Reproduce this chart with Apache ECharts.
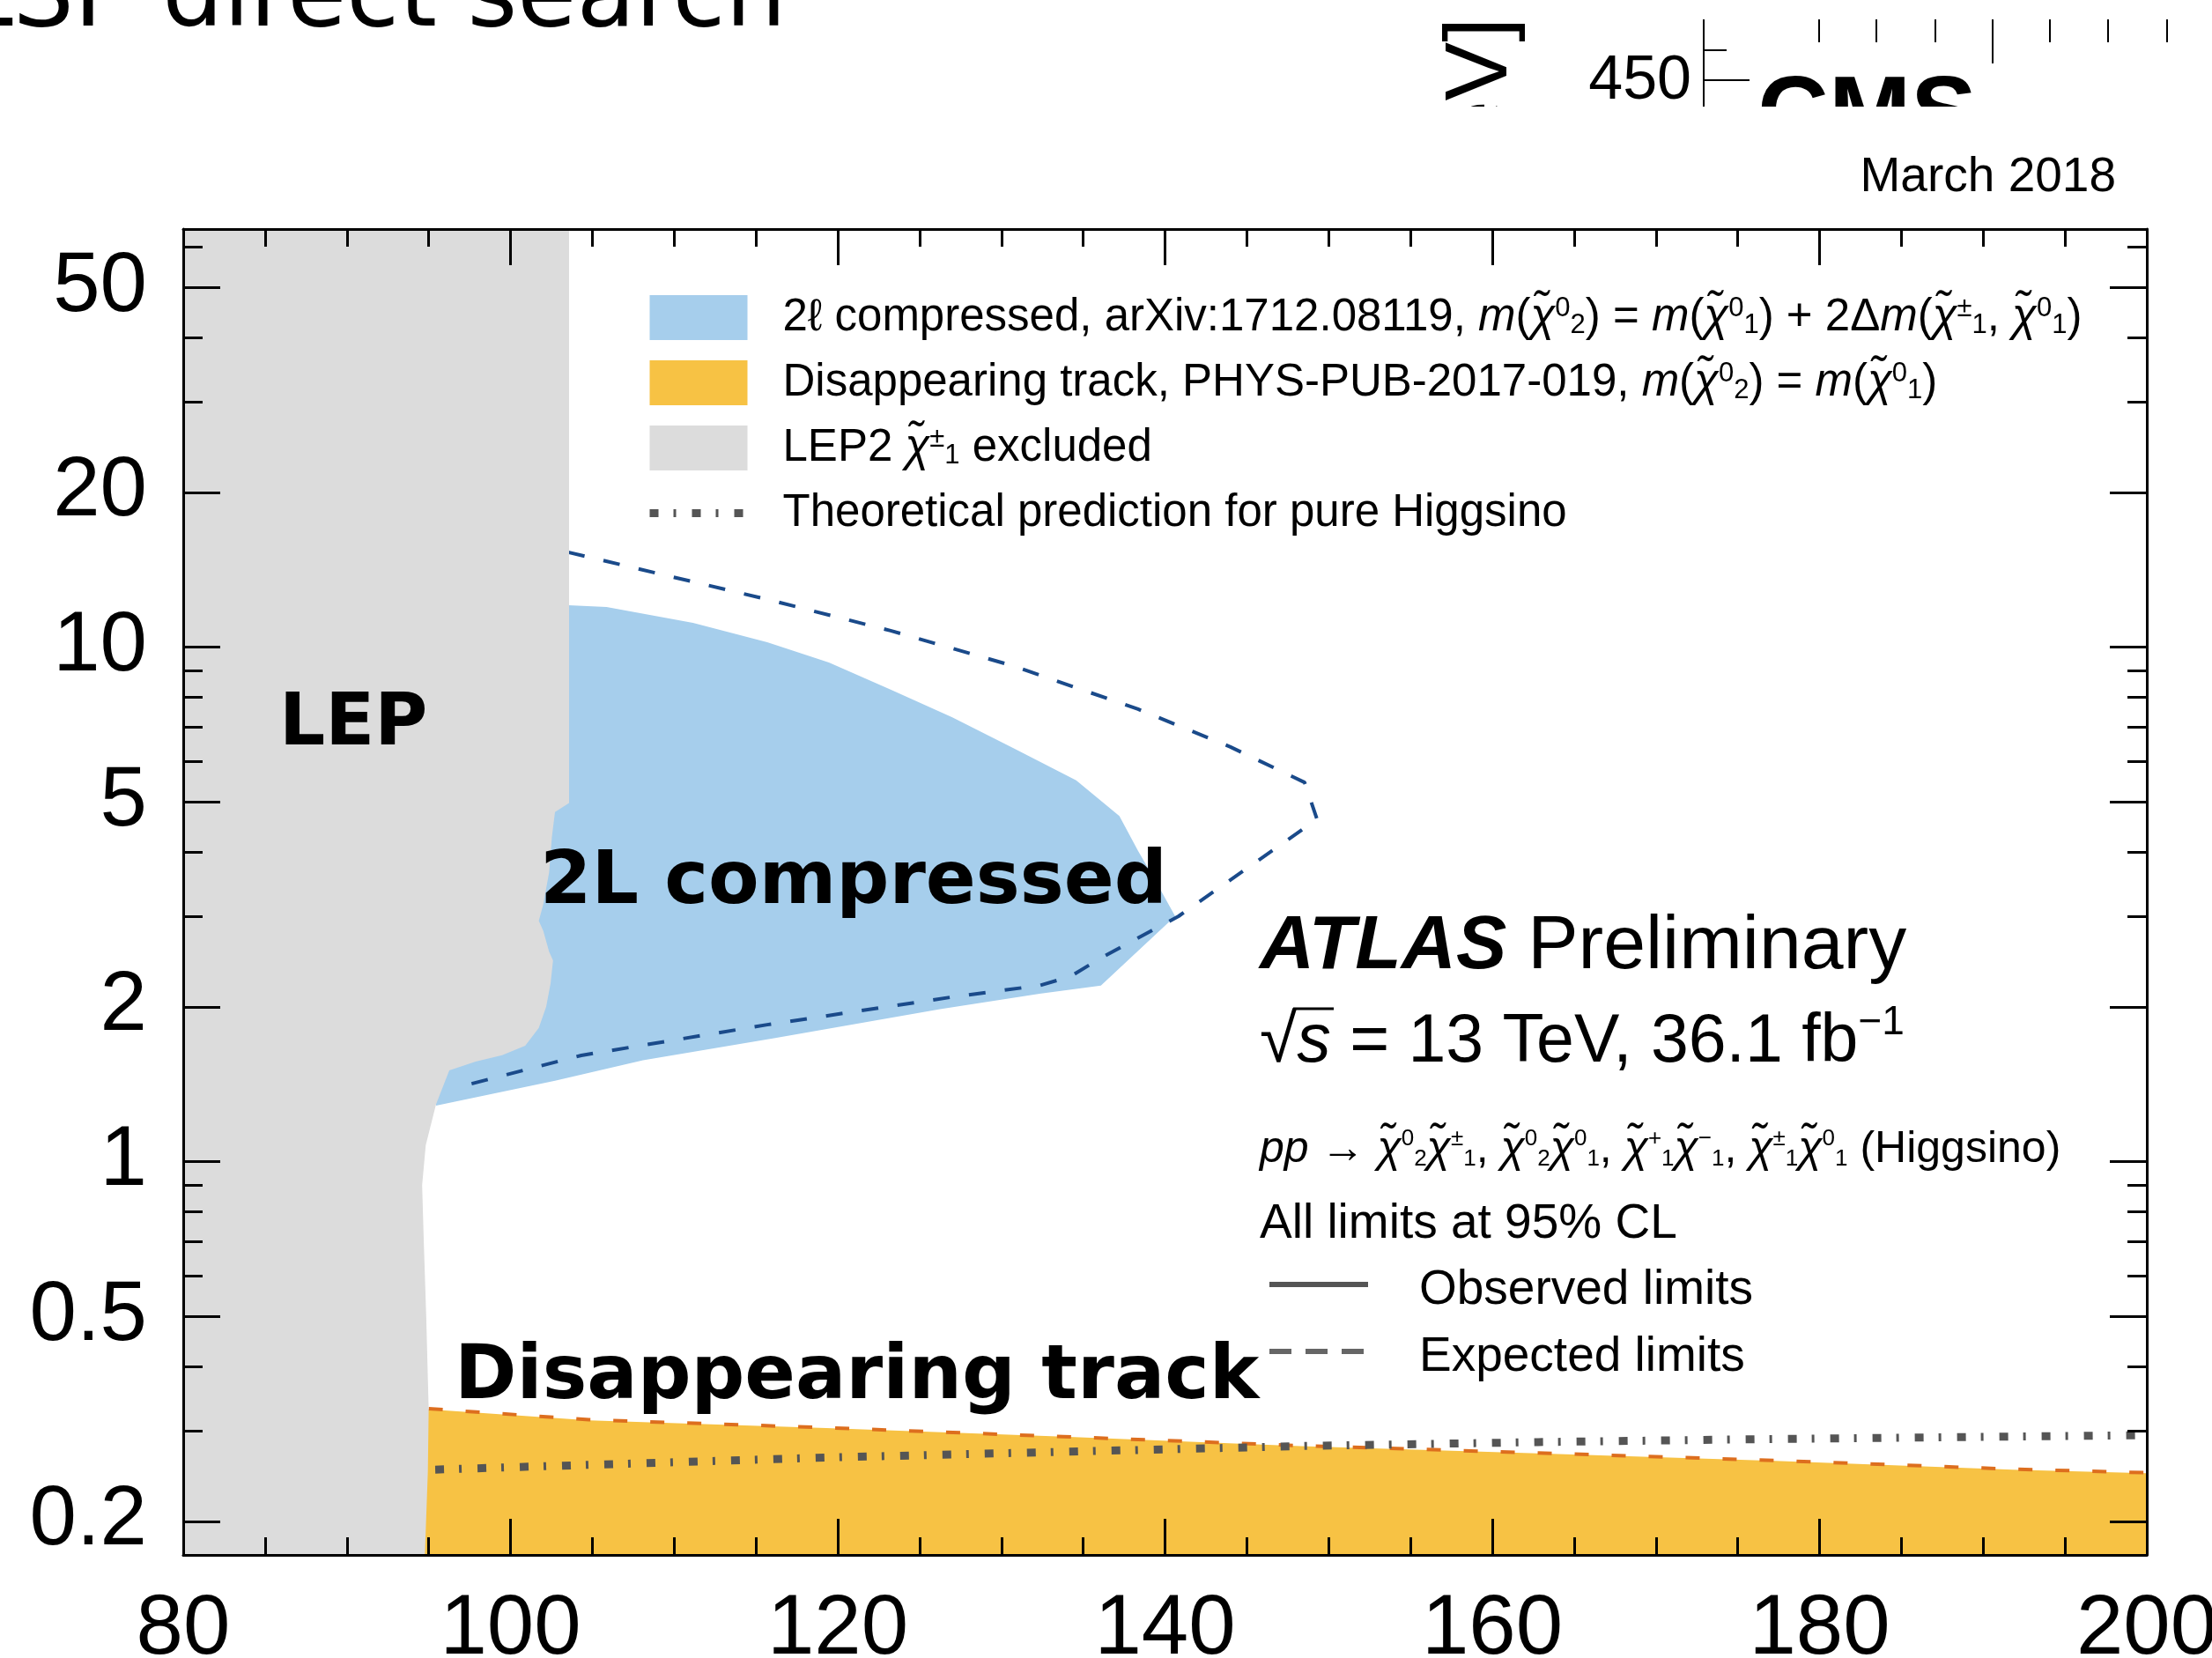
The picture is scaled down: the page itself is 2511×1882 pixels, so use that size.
<!DOCTYPE html>
<html>
<head>
<meta charset="utf-8">
<script src="https://cdn.jsdelivr.net/npm/echarts@6/dist/echarts.min.js"></script>
<style>
html, body { margin: 0; padding: 0; background: #fff; }
#main { width: 2511px; height: 1882px; }
</style>
</head>
<body>
<div id="main"></div>
<script>
var chartDom = document.getElementById('main');
var myChart = echarts.init(chartDom);
var option;

var FONT = 'Liberation Sans';
var BOLD = 'DejaVu Sans';

// axes: m(chargino) [GeV] vs delta m [GeV] (log)
var xMin = 80, xMax = 200, xStep = 20;
var yMin = 0.172, yMax = 65;
var yMajorTicks = [0.2, 0.5, 1, 2, 5, 10, 20, 50];
var yMinorTicks = [0.3, 0.4, 0.6, 0.7, 0.8, 0.9, 3, 4, 6, 7, 8, 9, 30, 40, 60];

// LEP2 excluded region (closed outline)
var lepRegion = [
  [79, 70], [103.58, 70], [103.58, 4.98], [102.72, 4.78], [102.53, 4.28], [102.36, 3.65],
  [102.0, 3.16], [101.73, 2.94], [102.0, 2.81], [102.36, 2.56], [102.6, 2.46], [102.45, 2.22],
  [102.18, 2.0], [101.73, 1.82], [100.9, 1.68], [99.49, 1.61], [97.87, 1.565], [96.26, 1.504],
  [95.45, 1.293], [94.82, 1.076], [94.6, 0.9], [94.7, 0.7], [94.85, 0.5], [95.0, 0.33],
  [94.95, 0.25], [94.7, 0.15], [79, 0.15]
];

// 2l compressed observed exclusion (closed outline)
var compObserved = [
  [95.45, 1.285], [95.45, 12.07], [103.53, 12.07], [105.87, 11.97], [111.15, 11.15],
  [115.69, 10.23], [119.46, 9.34], [123.23, 8.27], [127.0, 7.31], [130.79, 6.35],
  [134.57, 5.51], [137.21, 4.70], [138.35, 4.02], [139.49, 3.48], [140.62, 3.00],
  [136.08, 2.20], [132.33, 2.12], [126.25, 1.98], [116.18, 1.739], [108.1, 1.575],
  [102.72, 1.436]
];

// 2l compressed expected limit
var compExpected = [
  [103.53, 15.3], [115.69, 12.39], [123.23, 10.77], [130.76, 9.19], [138.35, 7.58],
  [144.0, 6.40], [148.53, 5.46], [149.29, 4.63], [140.83, 3.00], [136.1, 2.49],
  [134.21, 2.29], [132.33, 2.20], [127.0, 2.09], [115.69, 1.846], [104.33, 1.609],
  [96.8, 1.396]
];

// disappearing track observed exclusion (closed outline)
var dtObserved = [
  [94.0, 0.15], [94.0, 0.330], [95.0, 0.330], [104.8, 0.314], [119.3, 0.3035],
  [133.8, 0.292], [148.3, 0.280], [162.8, 0.271], [177.3, 0.262], [191.8, 0.252],
  [200, 0.248], [201, 0.248], [201, 0.15]
];

// disappearing track expected limit
var dtExpected = [
  [95.0, 0.331], [104.8, 0.315], [119.3, 0.304], [133.8, 0.292], [148.3, 0.2805],
  [162.8, 0.2715], [177.3, 0.2625], [191.8, 0.2525], [200, 0.2485]
];

// theoretical prediction for pure higgsino
var higgsinoTheory = [
  [95.4, 0.252], [119.3, 0.266], [148.3, 0.280], [162.8, 0.285], [177.3, 0.289], [200, 0.294]
];

function chi(sup, sub) {
  return '{i|\u03C7\u0303}{sup|' + sup + '}{sub|' + sub + '}';
}

var legendText = {
  comp: '2\u2113 compressed, arXiv:1712.08119, {i|m}(' + chi('0', '2') + ') = {i|m}(' + chi('0', '1') +
    ') + 2\u0394{i|m}(' + chi('\u00B1', '1') + ', ' + chi('0', '1') + ')',
  dt: 'Disappearing track, PHYS-PUB-2017-019, {i|m}(' + chi('0', '2') + ') = {i|m}(' + chi('0', '1') + ')',
  lep: 'LEP2 ' + chi('\u00B1', '1') + ' excluded',
  theory: 'Theoretical prediction for pure Higgsino'
};

function toLog(pts) {
  return pts.map(function (p) { return [p[0], Math.log10(p[1])]; });
}

function regionSeries(name, pts, color, z) {
  var data = toLog(pts);
  return {
    name: name,
    type: 'custom',
    z: z,
    clip: true,
    silent: true,
    itemStyle: { color: color },
    encode: { x: 0, y: 1 },
    renderItem: function (params, api) {
      if (params.dataIndex !== 0) return null;
      return {
        type: 'polygon',
        shape: { points: data.map(function (d) { return api.coord(d); }) },
        style: { fill: color }
      };
    },
    data: data
  };
}

function lineSeries(name, pts, color, width, dash, z) {
  return {
    name: name,
    type: 'line',
    z: z,
    silent: true,
    symbol: 'none',
    data: toLog(pts),
    itemStyle: { color: color },
    lineStyle: { color: color, width: width, type: dash, cap: 'butt' }
  };
}

var tickStyle = { color: '#000', width: 3 };

function xAxisDef(pos, labels) {
  return {
    type: 'value', position: pos, min: xMin, max: xMax, interval: xStep, z: 10,
    axisLine: { show: true, onZero: false, lineStyle: tickStyle },
    axisTick: { show: true, inside: true, length: 41, lineStyle: tickStyle },
    minorTick: { show: true, splitNumber: 4, length: 20, lineStyle: tickStyle },
    axisLabel: { show: labels, margin: 38, fontFamily: FONT, fontSize: 96, color: '#000' },
    splitLine: { show: false }
  };
}

function yAxisDef(pos, ticks, len, line, labels) {
  return {
    type: 'value', position: pos, min: Math.log10(yMin), max: Math.log10(yMax), z: 10,
    axisLine: { show: line, onZero: false, lineStyle: tickStyle },
    axisTick: { show: true, inside: true, length: len, customValues: ticks.map(Math.log10), lineStyle: tickStyle },
    axisLabel: {
      show: labels, margin: 41, customValues: ticks.map(Math.log10),
      fontFamily: FONT, fontSize: 96, color: '#000',
      formatter: function (v) { return String(+Math.pow(10, v).toPrecision(3)); }
    },
    splitLine: { show: false }
  };
}

function richText(x, y, text, size, rich, extra) {
  var st = { text: text, fontFamily: FONT, fontSize: size, fill: '#000', verticalAlign: 'middle', rich: rich || {} };
  if (extra) for (var k in extra) st[k] = extra[k];
  return { type: 'text', x: x, y: y, z: 100, silent: true, style: st };
}

option = {
  animation: false,
  backgroundColor: '#fff',
  grid: { left: 208, right: 74, top: 260, bottom: 117, outerBoundsMode: 'none' },
  xAxis: [xAxisDef('bottom', true), xAxisDef('top', false)],
  yAxis: [
    yAxisDef('left', yMajorTicks, 42, true, true),
    yAxisDef('left', yMinorTicks, 22, false, false),
    yAxisDef('right', yMajorTicks, 42, true, false),
    yAxisDef('right', yMinorTicks, 22, false, false)
  ],
  legend: {
    orient: 'vertical', left: 733, top: 335, padding: 0,
    itemWidth: 111, itemHeight: 51, itemGap: 23,
    selectedMode: false,
    data: [
      { name: 'comp', icon: 'rect' },
      { name: 'dt', icon: 'rect' },
      { name: 'lep', icon: 'rect' },
      { name: 'theory', itemStyle: { opacity: 0 } }
    ],
    lineStyle: { width: 9 },
    formatter: function (name) { return legendText[name]; },
    textStyle: {
      fontFamily: FONT, fontSize: 51, color: '#000', padding: [0, 0, 0, 35],
      rich: {
        i: { fontFamily: FONT, fontSize: 51, fontStyle: 'italic', color: '#000' },
        sup: { fontFamily: FONT, fontSize: 31, color: '#000', padding: [0, 0, 20, 0] },
        sub: { fontFamily: FONT, fontSize: 31, color: '#000', padding: [18, 0, 0, 0] }
      }
    }
  },
  series: [
    regionSeries('comp', compObserved, '#a6ceec', 1),
    regionSeries('dt', dtObserved, '#f7c244', 1),
    lineSeries('compExp', compExpected, '#1a4a8a', 4, [19, 22], 2),
    lineSeries('dtExp', dtExpected, '#dd6e1e', 4, [16, 26], 2),
    lineSeries('theory', higgsinoTheory, '#555555', 9, [10, 17, 3, 18], 2),
    regionSeries('lep', lepRegion, '#dcdcdc', 3)
  ],
  graphic: [
    // slide title, cut by the page top
    { type: 'text', x: -46, y: 1, z: 100, silent: true,
      style: { text: 'LSP direct search', fontFamily: BOLD, fontSize: 109, fill: '#000', verticalAlign: 'middle' } },
    // fragment of the neighbouring CMS plot
    { type: 'text', x: 1682, y: 20, rotation: Math.PI / 2, z: 100, silent: true,
      style: { text: 'GeV]', fontFamily: FONT, fontSize: 100, fill: '#000', align: 'right', verticalAlign: 'middle' } },
    { type: 'text', x: 1920, y: 93, z: 100, silent: true,
      style: { text: '450', fontFamily: FONT, fontSize: 70, fill: '#000', align: 'right', verticalAlign: 'middle' } },
    { type: 'line', z: 100, silent: true, shape: { x1: 1934, y1: 22, x2: 1934, y2: 130 }, style: { stroke: '#000', lineWidth: 2 } },
    { type: 'line', z: 100, silent: true, shape: { x1: 1934, y1: 57, x2: 1960, y2: 57 }, style: { stroke: '#000', lineWidth: 2 } },
    { type: 'line', z: 100, silent: true, shape: { x1: 1934, y1: 91, x2: 1986, y2: 91 }, style: { stroke: '#000', lineWidth: 2 } },
    { type: 'group', z: 100, silent: true, children: [2065, 2130, 2197, 2262, 2327, 2393, 2460].map(function (x) {
        return { type: 'line', shape: { x1: x, y1: 22, x2: x, y2: x === 2262 ? 72 : 48 }, style: { stroke: '#000', lineWidth: 2 } };
      }) },
    { type: 'text', x: 1995, y: 133, z: 100, silent: true,
      style: { text: 'CMS', fontFamily: FONT, fontWeight: 'bold', fontSize: 112, fill: '#000', verticalAlign: 'middle' } },
    { type: 'rect', z: 101, silent: true, shape: { x: 1560, y: 121, width: 951, height: 134 }, style: { fill: '#fff' } },
    // plot labels
    { type: 'text', x: 2402, y: 202, z: 102, silent: true,
      style: { text: 'March 2018', fontFamily: FONT, fontSize: 55, fill: '#000', align: 'right', verticalAlign: 'middle' } },
    richText(1430, 1075, '{b|ATLAS} Preliminary', 86, {
      b: { fontFamily: FONT, fontSize: 86, fontWeight: 'bold', fontStyle: 'italic', fill: '#000' }
    }),
    richText(1430, 1184, '\u221A{i|s} = 13 TeV, 36.1 fb{sup|\u22121}', 77, {
      i: { fontFamily: FONT, fontSize: 77, fontStyle: 'italic', fill: '#000' },
      sup: { fontFamily: FONT, fontSize: 46, fill: '#000', padding: [0, 0, 46, 0] }
    }),
    { type: 'line', z: 100, silent: true, shape: { x1: 1468, y1: 1145, x2: 1514, y2: 1145 }, style: { stroke: '#000', lineWidth: 3 } },
    richText(1430, 1305, '{i|pp} \u2192 ' + chi('0', '2') + chi('\u00B1', '1') + ', ' + chi('0', '2') + chi('0', '1') + ', ' +
      chi('+', '1') + chi('\u2212', '1') + ', ' + chi('\u00B1', '1') + chi('0', '1') + ' (Higgsino)', 50, {
      i: { fontFamily: FONT, fontSize: 50, fontStyle: 'italic', fill: '#000' },
      sup: { fontFamily: FONT, fontSize: 26, fill: '#000', padding: [0, 0, 24, 0] },
      sub: { fontFamily: FONT, fontSize: 26, fill: '#000', padding: [22, 0, 0, 0] }
    }),
    richText(1430, 1390, 'All limits at 95% CL', 55),
    { type: 'line', z: 100, silent: true, shape: { x1: 1441, y1: 1458, x2: 1553, y2: 1458 }, style: { stroke: '#555', lineWidth: 6 } },
    richText(1611, 1465, 'Observed limits', 55),
    { type: 'line', z: 100, silent: true, shape: { x1: 1441, y1: 1534, x2: 1553, y2: 1534 }, style: { stroke: '#666', lineWidth: 6, lineDash: [25, 16] } },
    richText(1611, 1541, 'Expected limits', 55),
    // slide annotations
    { type: 'text', x: 317, y: 824, z: 110, silent: true,
      style: { text: 'LEP', fontFamily: BOLD, fontWeight: 'bold', fontSize: 82, fill: '#000', verticalAlign: 'middle' } },
    { type: 'text', x: 613, y: 1003, z: 110, silent: true,
      style: { text: '2L compressed', fontFamily: BOLD, fontWeight: 'bold', fontSize: 84, fill: '#000', verticalAlign: 'middle' } },
    { type: 'text', x: 516, y: 1565, z: 110, silent: true,
      style: { text: 'Disappearing track', fontFamily: BOLD, fontWeight: 'bold', fontSize: 85, fill: '#000', verticalAlign: 'middle' } }
  ]
};

option && myChart.setOption(option);
</script>
</body>
</html>
